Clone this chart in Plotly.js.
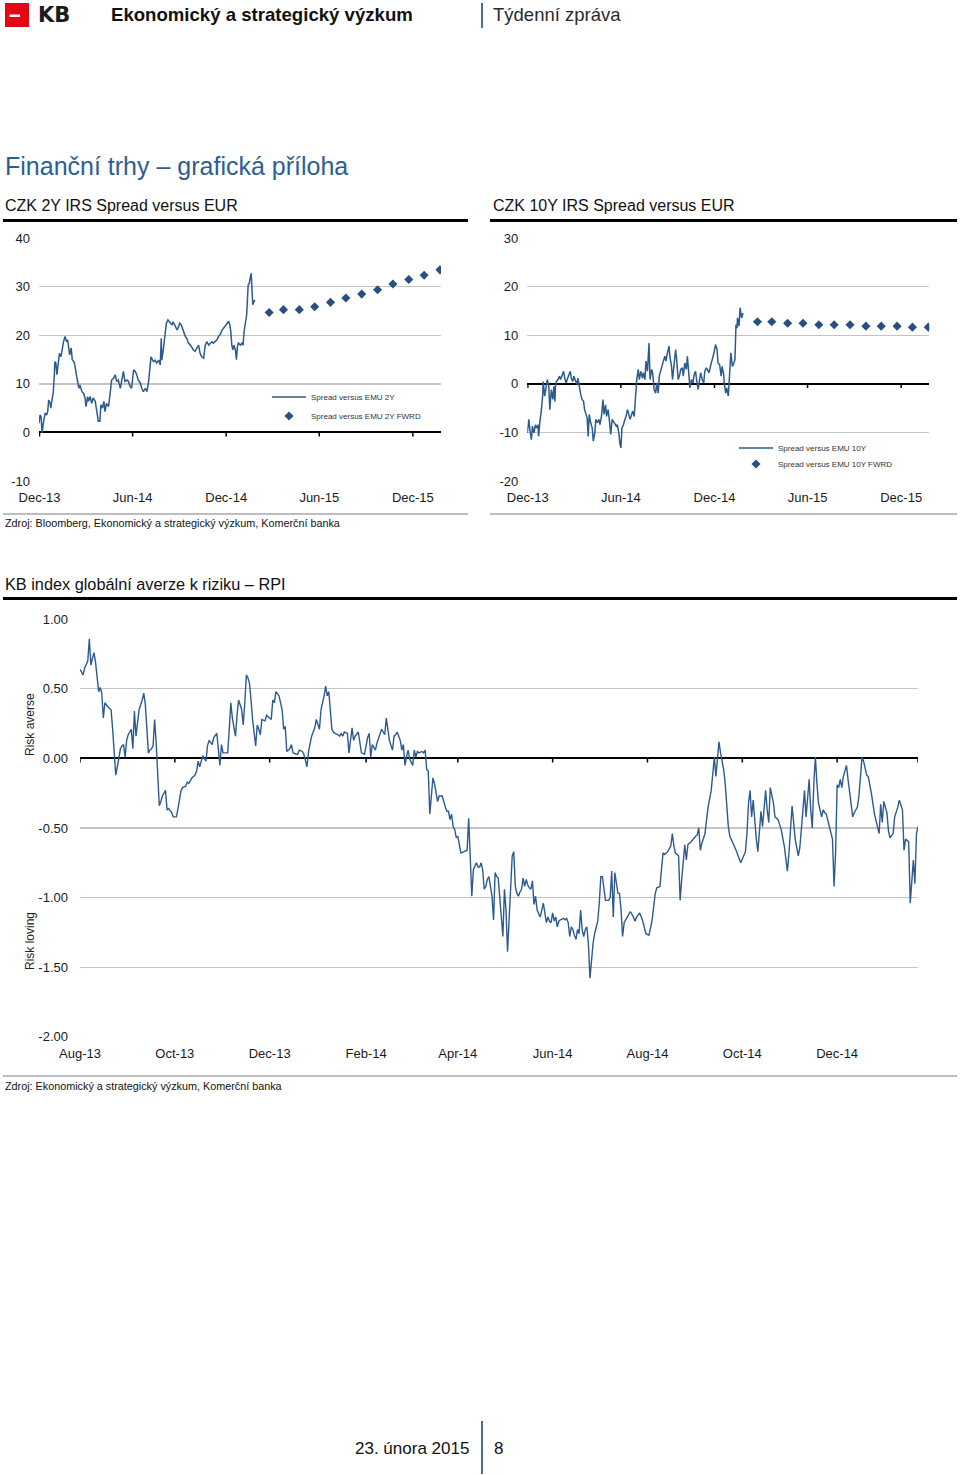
<!DOCTYPE html>
<html><head><meta charset="utf-8">
<script src="https://cdn.plot.ly/plotly-3.0.1.min.js"></script>
<style>html,body{margin:0;padding:0;background:#fff}#chart{width:960px;height:1475px}</style>
</head><body><div id="chart"></div>
<script>
// ---------- DATA ----------
// CZK 2Y / 10Y spreads: day offsets counted from spreadBaseDate
const spreadBaseDate = '2013-11-30';
const spreadRange = ['2013-11-30', '2016-01-25'];
const spreadTickVals = ['2013-12-01', '2014-06-01', '2014-12-01', '2015-06-01', '2015-12-01'];
const spreadTickText = ['Dec-13', 'Jun-14', 'Dec-14', 'Jun-15', 'Dec-15'];
const spread2yAxisTicks = [-10, 0, 10, 20, 30, 40];
const spread10yAxisTicks = [-20, -10, 0, 10, 20, 30];

const spread2yDay = [0,2,4,5,6,8,12,15,17,19, 22,23,26,28,30,31,33,35,38,40, 43,46,48,51,54,56,57,60,63,65, 68,70,73,76,78,80,84,87,90,92, 95,97,100,103,106,110,113,116,119,121, 124,127,129,132,136,139,142,146,149,152, 155,159,162,165,168,172,175,178,181,185, 188,191,194,198,201,204,208,211,214,217, 219,222,224,227,230,234,237,239,240,243, 247,249,252,254,257,260,262,265,268,270, 273,275,278,281,283,286,289,292,296,299, 302,305,309,312,315,318,322,325,328,332, 335,338,341,345,348,351,354,358,361,364, 367,371,373,375,377,379,381,384,386,388, 390,394,397,399,401,403,406,409,411,413, 415,416,418,420,422];
const spread2yValue = [1.9,3.6,3.3,0.2,-0.1,1.6,4.0,3.6,4.3,6.7, 6.0,5.0,7.1,8.4,11.9,14.6,14.3,11.9,14.6,16.3, 15.6,17.7,18.7,19.8,18.7,19.1,18.0,16.0,17.4,15.0, 14.6,13.9,11.9,10.5,9.1,9.8,8.4,8.1,7.1,5.3, 7.4,6.4,7.4,6.0,7.1,6.4,4.0,2.3,2.3,5.7, 5.0,6.4,4.3,6.0,5.3,7.8,10.8,11.2,11.9,10.5, 10.8,9.1,11.2,12.6,10.5,10.8,10.5,9.5,9.1,12.9, 12.6,11.9,10.8,10.2,9.1,8.4,9.1,8.4,10.2,13.9, 15.6,14.9,14.6,14.9,14.3,14.9,13.9,19.4,14.9,17.0, 20.4,22.5,23.2,22.8,22.5,22.2,22.8,22.2,21.5,21.1, 21.8,22.5,22.2,21.1,20.8,19.8,19.4,18.4,18.0,17.4, 17.0,16.7,17.4,18.0,16.3,15.6,15.3,18.0,18.7,18.0, 18.4,18.7,18.4,18.7,19.1,19.8,20.1,21.1,21.5,21.8, 22.2,22.9,22.2,20.8,18.0,17.0,18.0,17.0,15.0,17.7, 18.4,18.0,18.4,18.0,20.8,22.2,24.2,30.4,30.7,31.8, 32.8,30.4,26.3,26.9,27.3];

const fwrdDates = ['2015-02-23','2015-03-23','2015-04-23','2015-05-23','2015-06-23','2015-07-23','2015-08-23','2015-09-23','2015-10-23','2015-11-23','2015-12-23','2016-01-23'];
const spread2yFwrd = [24.7,25.3,25.3,25.9,26.8,27.7,28.5,29.4,30.6,31.5,32.4,33.5];

const spread10yDay = [0,3,5,8,10,13,16,18,21,22, 25,27,30,31,34,37,39,42,44,47, 50,52,54,55,57,60,63,65,68,71, 73,76,78,81,84,86,89,91,94,97, 99,102,104,107,110,112,115,117,119,121, 124,127,129,132,134,137,140,142,145,148, 150,153,155,158,161,163,166,168,171,174, 176,179,181,183,185,188,191,193,196,198, 201,204,206,209,211,214,217,219,222,225, 227,230,232,235,238,240,243,245,248,251, 253,256,258,261,264,266,269,271,274,277, 279,282,284,287,290,292,295,298,300,303, 305,308,311,313,316,318,321,324,326,329, 331,334,337,339,342,345,347,350,352,355, 358,360,363,365,368,371,373,376,379,381, 384,385,388,390,393,395,398,401,403,406, 407,408,410,411,414,416,419,422];
const spread10yValue = [-10.1,-7.3,-9.4,-11.5,-8.7,-10.1,-8.4,-9.1,-8.4,-10.8, -7.3,-6.0,-2.5,0.5,-2.5,0.2,0.9,-0.5,-5.3,-1.2, -3.2,-0.5,-3.6,-0.5,0.5,0.9,1.6,0.9,1.9,2.6, 1.2,0.2,0.9,1.6,2.6,1.2,0.5,1.6,0.9,-0.1, 1.2,-1.2,-1.9,-3.2,-3.6,-5.3,-6.3,-7.0,-10.8,-6.3, -8.0,-9.1,-11.8,-10.1,-7.3,-8.0,-7.3,-8.4,-6.7,-3.2, -6.3,-4.3,-6.7,-5.3,-8.0,-10.4,-7.3,-7.7,-8.0,-8.7, -8.4,-10.1,-12.2,-13.2,-9.1,-8.4,-7.3,-6.7,-5.3,-6.0, -7.3,-6.3,-5.6,-6.7,-3.9,0.9,3.0,0.9,2.6,1.2, 2.3,0.9,4.7,2.6,8.4,0.9,3.0,2.3,-1.2,-1.9, 0.2,-1.9,1.6,3.0,4.0,4.7,5.7,4.7,6.4,7.8, 5.4,3.6,0.9,4.3,7.1,5.0,0.9,1.9,3.0,3.3, 1.6,4.3,3.0,5.7,0.9,-0.8,0.9,0.2,1.9,2.6, 0.9,-1.2,0.9,2.3,0.9,0.2,2.6,3.3,3.0,2.3, 3.6,4.3,5.4,6.4,8.1,7.1,4.3,4.0,1.6,3.6, 1.9,0.2,-1.9,-0.8,-2.5,0.9,6.4,3.6,4.0,5.0, 10.5,12.2,11.5,13.6,11.9,15.7,13.6,14.6];
const spread10yFwrd = [12.8,12.8,12.5,12.5,12.2,12.2,12.2,11.9,11.9,11.9,11.7,11.7];

// KB RPI: day offsets counted from rpiBaseDate
const rpiBaseDate = '2013-08-01';
const rpiRange = ['2013-08-01', '2015-01-22'];
const rpiTickVals = ['2013-08-01','2013-10-01','2013-12-01','2014-02-01','2014-04-01','2014-06-01','2014-08-01','2014-10-01','2014-12-01'];
const rpiTickText = ['Aug-13','Oct-13','Dec-13','Feb-14','Apr-14','Jun-14','Aug-14','Oct-14','Dec-14'];
const rpiAxisTicks = [-2, -1.5, -1, -0.5, 0, 0.5, 1];
const rpiDay = [0,2,3,5,6,7,8,9,10,11, 12,13,14,15,16,18,20,21,22,23, 25,26,27,28,29,30,31,33,34,35, 36,37,38,40,41,42,43,44,45,46, 47,48,49,50,51,52,53,55,56,57, 59,60,62,63,65,66,68,69,70,71, 72,74,75,76,77,79,80,81,82,83, 85,86,88,89,90,91,92,94,95,96, 97,98,100,101,102,104,105,106,107,108, 109,110,111,113,114,115,116,117,119,120, 121,122,123,124,125,126,128,129,130,131, 132,133,135,136,137,139,140,141,143,144, 145,146,147,148,149,151,152,154,155,157, 158,159,160,161,162,163,164,166,167,168, 169,170,172,173,175,176,177,179,180,181, 183,184,185,186,187,188,190,191,192,194, 196,197,198,199,201,202,203,204,206,207, 208,209,210,211,212,213,214,215,216,217, 218,220,221,222,223,224,225,226,227,228, 229,230,231,233,235,236,237,238,239,240, 241,242,243,244,245,247,249,250,251,252, 253,254,255,256,257,258,259,260,261,262, 263,265,266,267,268,269,270,271,272,273, 274,275,276,277,278,279,280,281,282,283, 284,285,286,287,288,289,290,291,292,293, 294,296,297,298,299,300,301,302,303,304, 305,306,307,308,309,311,312,313,314,315, 316,317,318,319,320,321,322,323,324,325, 326,327,328,329,330,331,332,333,334,335, 336,337,338,340,341,342,343,344,345,346, 347,348,349,350,351,352,353,354,356,357, 358,359,360,361,362,364,366,368,369,370, 371,373,375,376,377,378,380,381,382,383, 385,386,387,388,389,390,391,392,393,396, 397,398,399,400,401,402,403,404,406,407, 408,409,410,411,412,414,415,416,417,418, 420,422,425,428,429,430,431,432,433,434, 435,436,438,439,441,442,443,444,446,447, 449,451,453,455,456,458,459,460,462,463, 465,466,467,469,470,471,472,473,474,475, 477,478,479,480,482,484,485,486,487,488, 489,490,491,493,494,496,497,498,500,501, 503,504,506,507,509,511,513,514,515,516, 517,519,520,521,523,524,526,527,529,530, 531,533,534,536,537,538,539];
const rpiValue = [0.64,0.60,0.65,0.70,0.86,0.67,0.72,0.76,0.69,0.60, 0.48,0.51,0.47,0.29,0.40,0.37,0.35,0.21,0.04,-0.12, 0.00,0.07,0.09,0.10,0.01,0.13,0.17,0.21,0.07,0.34, 0.16,0.25,0.35,0.42,0.47,0.39,0.19,0.04,0.06,0.07, 0.09,0.28,0.11,-0.08,-0.34,-0.31,-0.27,-0.23,-0.37,-0.36, -0.39,-0.42,-0.42,-0.36,-0.23,-0.21,-0.20,-0.17,-0.18,-0.16, -0.14,-0.12,-0.09,-0.02,-0.06,0.02,0.00,-0.02,0.09,0.13, 0.10,0.15,0.18,0.04,-0.05,0.10,0.04,0.04,0.04,0.21, 0.40,0.29,0.16,0.31,0.42,0.35,0.24,0.40,0.60,0.58, 0.54,0.42,0.28,0.09,0.24,0.21,0.17,0.28,0.27,0.31, 0.30,0.29,0.28,0.42,0.40,0.48,0.45,0.40,0.35,0.21, 0.23,0.05,0.07,0.10,0.04,0.03,0.03,0.06,0.05,0.03, -0.01,-0.06,0.05,0.10,0.16,0.22,0.28,0.21,0.35,0.45, 0.52,0.45,0.48,0.35,0.21,0.19,0.18,0.17,0.16,0.18, 0.16,0.19,0.18,0.04,0.22,0.13,0.16,0.19,0.10,0.04, 0.03,0.10,0.15,0.18,0.01,0.10,0.06,0.11,0.15,0.21, 0.17,0.29,0.21,0.13,0.06,0.16,0.17,0.19,0.13,0.06, 0.10,-0.05,0.01,0.06,0.00,-0.03,-0.05,0.06,0.01,0.05, 0.04,0.05,0.04,0.06,-0.08,-0.09,-0.40,-0.27,-0.14,-0.18, -0.25,-0.31,-0.27,-0.27,-0.35,-0.38,-0.38,-0.44,-0.40,-0.49, -0.51,-0.57,-0.56,-0.62,-0.68,-0.67,-0.66,-0.43,-0.75,-0.99, -0.80,-0.78,-0.75,-0.78,-0.78,-0.75,-0.80,-0.94,-0.92,-0.87, -0.85,-0.99,-1.16,-0.82,-0.85,-0.86,-0.99,-1.14,-1.28,-0.94, -1.09,-1.39,-1.14,-0.92,-0.70,-0.67,-0.92,-0.97,-0.99,-0.96, -0.94,-0.86,-0.92,-0.87,-0.91,-0.93,-0.94,-0.88,-1.05,-0.99, -1.09,-1.14,-1.09,-1.04,-1.11,-1.18,-1.14,-1.17,-1.18,-1.11, -1.17,-1.14,-1.21,-1.17,-1.16,-1.15,-1.16,-1.15,-1.18,-1.28, -1.21,-1.23,-1.27,-1.30,-1.23,-1.26,-1.09,-1.23,-1.28,-1.23, -1.21,-1.33,-1.58,-1.45,-1.33,-1.26,-1.21,-1.17,-1.04,-0.85, -0.85,-0.92,-1.02,-1.02,-1.00,-0.81,-1.14,-0.82,-0.90,-0.97, -0.97,-1.09,-1.28,-1.18,-1.16,-1.14,-1.11,-1.10,-1.14,-1.17, -1.14,-1.12,-1.11,-1.14,-1.17,-1.26,-1.27,-1.16,-1.04,-0.97, -0.93,-0.92,-0.68,-0.69,-0.68,-0.67,-0.63,-0.54,-0.63,-0.68, -0.70,-1.02,-0.87,-0.75,-0.62,-0.73,-0.62,-0.61,-0.60,-0.56, -0.55,-0.50,-0.66,-0.61,-0.57,-0.54,-0.44,-0.35,-0.23,-0.13, 0.01,-0.13,0.03,0.12,0.04,-0.08,-0.18,-0.32,-0.49,-0.56, -0.61,-0.66,-0.75,-0.67,-0.54,-0.32,-0.23,-0.42,-0.30,-0.46, -0.58,-0.67,-0.38,-0.49,-0.23,-0.37,-0.46,-0.21,-0.32,-0.42, -0.44,-0.51,-0.63,-0.81,-0.68,-0.34,-0.45,-0.58,-0.70,-0.64, -0.37,-0.23,-0.42,-0.15,-0.37,-0.50,-0.18,0.01,-0.18,-0.32, -0.42,-0.37,-0.39,-0.40,-0.49,-0.58,-0.92,-0.68,-0.19,-0.21, -0.15,-0.21,-0.13,-0.05,-0.15,-0.32,-0.42,-0.39,-0.35,-0.27, 0.01,-0.02,-0.12,-0.13,-0.25,-0.40,-0.51,-0.54,-0.33,-0.46, -0.31,-0.39,-0.52,-0.57,-0.54,-0.42,-0.35,-0.30,-0.37,-0.66, -0.58,-0.60,-1.04,-0.73,-0.90,-0.54,-0.49];

// ---------- HELPERS ----------
const W = 960, H = 1475;
const fx = p => p / W, fy = p => 1 - p / H;
function toDates(base, days) {
  const b = Date.parse(base + 'T00:00:00Z');
  return days.map(d => new Date(b + d * 864e5).toISOString().slice(0, 10));
}
const FONT = 'Liberation Sans, Arial, Helvetica, sans-serif';
const LINE = '#2d5b8e', MARK = '#284f82';
const GRID = '#c4c4c4';

const traces = [
  {type:'scatter', mode:'lines', x: toDates(spreadBaseDate, spread2yDay), y: spread2yValue, xaxis:'x', yaxis:'y',
   name:'Spread versus EMU 2Y', legend:'legend', line:{color:LINE, width:1.5}, hoverinfo:'skip'},
  {type:'scatter', mode:'markers', x: fwrdDates, y: spread2yFwrd, xaxis:'x', yaxis:'y',
   name:'Spread versus EMU 2Y FWRD', legend:'legend2', marker:{symbol:'diamond', size:7, color:MARK}, hoverinfo:'skip'},
  {type:'scatter', mode:'lines', x: toDates(spreadBaseDate, spread10yDay), y: spread10yValue, xaxis:'x2', yaxis:'y2',
   name:'Spread versus EMU 10Y', legend:'legend3', line:{color:LINE, width:1.5}, hoverinfo:'skip'},
  {type:'scatter', mode:'markers', x: fwrdDates, y: spread10yFwrd, xaxis:'x2', yaxis:'y2',
   name:'Spread versus EMU 10Y FWRD', legend:'legend4', marker:{symbol:'diamond', size:7, color:MARK}, hoverinfo:'skip'},
  {type:'scatter', mode:'lines', x: toDates(rpiBaseDate, rpiDay), y: rpiValue, xaxis:'x3', yaxis:'y3',
   name:'RPI', showlegend:false, line:{color:LINE, width:1.4}, hoverinfo:'skip'}
];

function xAxis(domain, range, tickvals, ticktext, anchor) {
  return {type:'date', domain, range, tickvals, ticktext, anchor, showgrid:false, zeroline:false, showline:false,
          ticks:'', tickfont:{family:FONT, size:13, color:'#1a1a1a'}, ticklabelstandoff:7, automargin:false, fixedrange:true};
}
// hyphen-minus tick labels, as in the original chart
function yAxis(domain, tickvals, decimals, anchor, standoff) {
  return {domain, range:[tickvals[0], tickvals[tickvals.length - 1]], tickvals, anchor,
          ticktext: tickvals.map(v => v.toFixed(decimals)),
          showgrid:true, gridcolor:GRID, gridwidth:1.2,
          zeroline:true, zerolinecolor:'#000', zerolinewidth:2, showline:false, ticks:'',
          tickfont:{family:FONT, size:13, color:'#1a1a1a'}, ticklabelstandoff:standoff,
          automargin:false, fixedrange:true};
}

// tick marks below the zero line, placed at the axis tick values
function tickMarks(xref, yref, vals) {
  return vals.map(v => ({type:'line', xref, yref, x0:v, x1:v, ysizemode:'pixel', yanchor:0, y0:0, y1:-4,
                         line:{color:'#000', width:1.5}}));
}
function pline(x0, y0, x1, y1, color, width) {
  return {type:'line', xref:'paper', yref:'paper', x0:fx(x0), x1:fx(x1), y0:fy(y0), y1:fy(y1), line:{color, width}};
}
function prect(x0, y0, x1, y1, color) {
  return {type:'rect', xref:'paper', yref:'paper', x0:fx(x0), x1:fx(x1), y0:fy(y1), y1:fy(y0), fillcolor:color, line:{width:0}};
}
function ann(text, x, y, size, opts) {
  return Object.assign({text, xref:'paper', yref:'paper', x:fx(x), y:fy(y), xanchor:'left', yanchor:'middle',
    showarrow:false, font:{family:FONT, size, color:'#111'}}, opts || {});
}
function legendAt(x, y) {
  return {x:fx(x), y:fy(y), xanchor:'left', yanchor:'middle', bgcolor:'rgba(0,0,0,0)', borderwidth:0,
          font:{family:FONT, size:8, color:'#333'}, itemwidth:34, tracegroupgap:0};
}

const shapes = [
  prect(5, 3, 29, 27, '#e30613'),
  prect(9.5, 14.5, 20, 17, '#ffffff'),
  pline(482, 3, 482, 28, '#4d6d8e', 2),
  pline(3, 220.5, 468, 220.5, '#000', 3),
  pline(490, 220.5, 957, 220.5, '#000', 3),
  pline(3, 514, 468, 514, '#a8a8a8', 1.5),
  pline(490, 514, 957, 514, '#a8a8a8', 1.5),
  pline(3, 598.5, 957, 598.5, '#000', 3),
  pline(3, 1076, 957, 1076, '#a8a8a8', 1.5),
  pline(482, 1421, 482, 1474, '#4d6d8e', 2),
  ...tickMarks('x', 'y', spreadTickVals),
  ...tickMarks('x2', 'y2', spreadTickVals),
  ...tickMarks('x3', 'y3', rpiTickVals.concat([rpiRange[1]]))
];

const annotations = [
  ann('<b>KB</b>', 36, 15, 21, {font:{family:'DejaVu Sans, sans-serif', size:21, color:'#1b1b1b'}}),
  ann('<b>Ekonomický a strategický výzkum</b>', 109, 15, 18.6),
  ann('Týdenní zpráva', 491, 15, 18.5, {font:{family:FONT, size:18.5, color:'#2a2a2a'}}),
  ann('Finanční trhy – grafická příloha', 3, 166, 25, {font:{family:FONT, size:25, color:'#2d5e93'}}),
  ann('CZK 2Y IRS Spread versus EUR', 3, 205, 16),
  ann('CZK 10Y IRS Spread versus EUR', 491, 205, 16),
  ann('Zdroj: Bloomberg, Ekonomický a strategický výzkum, Komerční banka', 3, 523, 10.8),
  ann('KB index globální averze k riziku – RPI', 3, 584, 16.3),
  ann('Risk averse', 30, 725, 12, {textangle:-90, xanchor:'center', font:{family:FONT, size:12, color:'#222'}}),
  ann('Risk loving', 30, 941, 12, {textangle:-90, xanchor:'center', font:{family:FONT, size:12, color:'#222'}}),
  ann('Zdroj: Ekonomický a strategický výzkum, Komerční banka', 3, 1086, 10.8),
  ann('23. února 2015', 471, 1448, 17, {xanchor:'right', font:{family:FONT, size:17, color:'#111'}}),
  ann('8', 492, 1448, 17, {font:{family:FONT, size:17, color:'#111'}})
];

const layout = {
  width: W, height: H, margin:{l:0, r:0, t:0, b:0}, paper_bgcolor:'#fff', plot_bgcolor:'rgba(0,0,0,0)',
  font:{family:FONT, color:'#111'}, showlegend:true,
  xaxis:  xAxis([fx(39), fx(441)], spreadRange, spreadTickVals, spreadTickText, 'y'),
  yaxis:  yAxis([fy(481), fy(238.3)], spread2yAxisTicks, 0, 'x', 8),
  xaxis2: xAxis([fx(527.3), fx(929.3)], spreadRange, spreadTickVals, spreadTickText, 'y2'),
  yaxis2: yAxis([fy(481), fy(238.3)], spread10yAxisTicks, 0, 'x2', 8),
  xaxis3: xAxis([fx(80), fx(918)], rpiRange, rpiTickVals, rpiTickText, 'y3'),
  yaxis3: yAxis([fy(1036.7), fy(619.3)], rpiAxisTicks, 2, 'x3', 11),
  legend:  legendAt(267, 397),
  legend2: legendAt(267, 416),
  legend3: legendAt(734, 448),
  legend4: legendAt(734, 464),
  shapes, annotations
};

Plotly.newPlot('chart', traces, layout, {staticPlot:true, displayModeBar:false});
</script></body></html>
